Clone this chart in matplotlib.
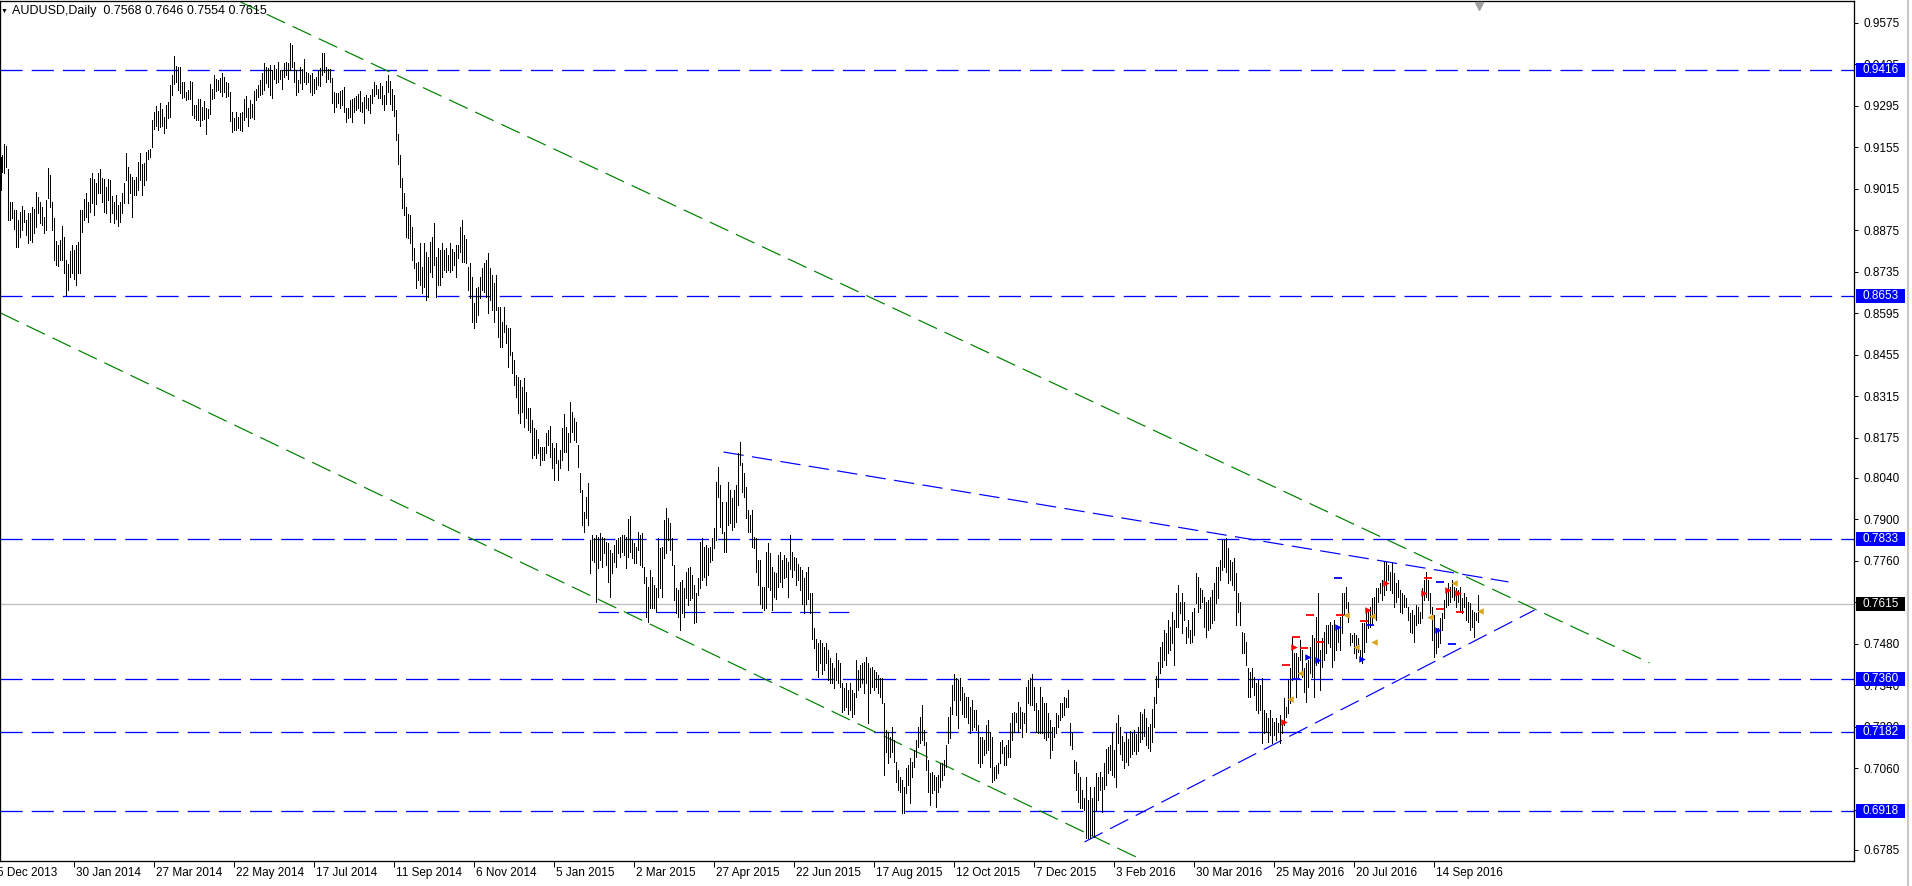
import matplotlib
matplotlib.use("Agg")
import matplotlib.pyplot as plt
from matplotlib.patches import Rectangle
from matplotlib.lines import Line2D
from matplotlib.transforms import blended_transform_factory

plt.rcParams['font.family'] = ['Liberation Sans', 'DejaVu Sans']

# AUDUSD daily bars, high / low in pips (price * 10000), one per trading day
highs = [
    9123, 9129, 9166, 9159, 9082, 8971, 8971, 8943, 8943, 8910,
    8938, 8957, 8943, 8910, 8932, 8932, 8955, 8946, 9004, 8988,
    8971, 8955, 8921, 8977, 9084, 9061, 8971, 8918, 8840, 8825,
    8842, 8889, 8853, 8775, 8761, 8806, 8824, 8808, 8825, 8836,
    8943, 8943, 8979, 8999, 8971, 9050, 9067, 9047, 9033, 9069,
    9080, 9050, 9047, 9022, 9047, 9044, 8990, 8971, 8994, 8960,
    8971, 8999, 9033, 9134, 9089, 9064, 9055, 9044, 9055, 9106,
    9136, 9100, 9103, 9140, 9146, 9148, 9247, 9275, 9294, 9278,
    9305, 9283, 9258, 9297, 9309, 9365, 9399, 9463, 9429, 9427,
    9424, 9376, 9376, 9342, 9348, 9378, 9376, 9297, 9297, 9317,
    9317, 9292, 9312, 9289, 9283, 9368, 9353, 9399, 9384, 9381,
    9387, 9406, 9393, 9376, 9370, 9342, 9275, 9252, 9275, 9256,
    9272, 9275, 9317, 9328, 9289, 9314, 9300, 9345, 9353, 9365,
    9381, 9406, 9438, 9426, 9421, 9432, 9415, 9432, 9418, 9443,
    9415, 9415, 9438, 9443, 9438, 9505, 9500, 9443, 9415, 9381,
    9426, 9418, 9454, 9410, 9406, 9399, 9406, 9384, 9393, 9415,
    9421, 9472, 9472, 9427, 9418, 9418, 9387, 9342, 9337, 9337,
    9345, 9348, 9359, 9289, 9289, 9314, 9317, 9320, 9328, 9334,
    9345, 9309, 9323, 9331, 9320, 9331, 9353, 9376, 9365, 9353,
    9370, 9360, 9330, 9380, 9400, 9380, 9350, 9330, 9280, 9200,
    9130, 9050, 9000, 8955, 8930, 8926, 8887, 8814, 8763, 8769,
    8831, 8752, 8831, 8803, 8786, 8836, 8853, 8898, 8786, 8814,
    8808, 8831, 8808, 8814, 8792, 8831, 8811, 8803, 8825, 8825,
    8887, 8910, 8859, 8844, 8752, 8763, 8718, 8628, 8679, 8685,
    8718, 8747, 8763, 8775, 8797, 8747, 8724, 8696, 8724, 8617,
    8617, 8567, 8617, 8555, 8544, 8544, 8465, 8437, 8387, 8381,
    8370, 8347, 8376, 8331, 8274, 8274, 8235, 8207, 8201, 8170,
    8145, 8145, 8145, 8190, 8201, 8215, 8156, 8139, 8156, 8100,
    8134, 8207, 8254, 8213, 8190, 8297, 8263, 8241, 8229, 8151,
    8055, 7999, 7926, 7976, 8021, 7830, 7847, 7836, 7847, 7842,
    7853, 7842, 7836, 7825, 7819, 7797, 7785, 7813, 7830, 7836,
    7842, 7847, 7847, 7842, 7900, 7911, 7830, 7819, 7808, 7858,
    7847, 7853, 7740, 7707, 7673, 7729, 7707, 7679, 7667, 7836,
    7802, 7808, 7898, 7937, 7903, 7887, 7836, 7746, 7667, 7662,
    7690, 7695, 7667, 7724, 7735, 7740, 7712, 7679, 7650, 7701,
    7825, 7836, 7808, 7813, 7802, 7808, 7836, 7870, 8027, 8078,
    8016, 7960, 7858, 7960, 8027, 7999, 7971, 7999, 8016, 8123,
    8162, 8089, 8055, 8010, 7931, 7914, 7931, 7841, 7836, 7763,
    7763, 7673, 7673, 7791, 7819, 7785, 7740, 7723, 7718, 7779,
    7791, 7763, 7779, 7768, 7757, 7847, 7791, 7774, 7768, 7751,
    7740, 7729, 7701, 7723, 7740, 7650, 7650, 7532, 7498, 7482,
    7493, 7482, 7470, 7482, 7459, 7431, 7414, 7397, 7448, 7425,
    7414, 7347, 7330, 7347, 7324, 7347, 7324, 7313, 7425, 7392,
    7408, 7414, 7420, 7437, 7414, 7397, 7403, 7392, 7386, 7375,
    7364, 7364, 7279, 7189, 7184, 7167, 7201, 7156, 7082, 7054,
    7032, 7021, 6998, 7060, 7071, 7094, 7082, 7122, 7156, 7201,
    7234, 7274, 7189, 7150, 7088, 7043, 7049, 7038, 7032, 7038,
    7077, 7077, 7088, 7139, 7234, 7268, 7341, 7380, 7364, 7358,
    7364, 7335, 7313, 7302, 7302, 7268, 7291, 7257, 7257, 7206,
    7167, 7167, 7156, 7206, 7223, 7184, 7167, 7066, 7071, 7077,
    7150, 7156, 7133, 7139, 7156, 7212, 7246, 7251, 7246, 7285,
    7268, 7251, 7246, 7335, 7358, 7364, 7380, 7335, 7279, 7257,
    7335, 7302, 7279, 7279, 7246, 7223, 7201, 7201, 7246, 7240,
    7279, 7279, 7302, 7296, 7324, 7212, 7184, 7088, 7082, 7043,
    7032, 6987, 6959, 7032, 6953, 6998, 6959, 6998, 7043, 7032,
    7049, 7032, 7077, 7127, 7133, 7139, 7184, 7122, 7212, 7240,
    7200, 7170, 7150, 7180, 7160, 7185, 7180, 7190, 7175, 7200,
    7250, 7245, 7260, 7230, 7200, 7210, 7260, 7302, 7370, 7420,
    7471, 7487, 7527, 7516, 7560, 7538, 7589, 7560, 7650, 7679,
    7622, 7650, 7622, 7538, 7560, 7527, 7589, 7600, 7718, 7707,
    7667, 7662, 7639, 7622, 7628, 7639, 7662, 7684, 7740, 7740,
    7763, 7830, 7830, 7836, 7802, 7763, 7757, 7768, 7718, 7650,
    7622, 7521, 7516, 7487, 7397, 7386, 7397, 7369, 7347, 7358,
    7341, 7364, 7257, 7246, 7229, 7257, 7229, 7218, 7229, 7212,
    7240, 7218, 7296, 7268, 7358, 7397, 7504, 7448, 7448, 7437,
    7493, 7459, 7397, 7414, 7426, 7471, 7510, 7499, 7572, 7650,
    7459, 7499, 7521, 7544, 7544, 7555, 7544, 7560, 7538, 7538,
    7572, 7650, 7650, 7673, 7622, 7516, 7510, 7516, 7510, 7499,
    7459, 7549, 7549, 7583, 7589, 7605, 7634, 7639, 7667, 7667,
    7684, 7695, 7757, 7757, 7746, 7723, 7752, 7718, 7684, 7695,
    7662, 7650, 7645, 7634, 7605, 7583, 7594, 7577, 7611, 7605,
    7589, 7667, 7695, 7723, 7695, 7650, 7605, 7577, 7532, 7532,
    7566, 7583, 7628, 7656, 7684, 7673, 7695, 7673, 7667, 7662,
    7673, 7634, 7650, 7639, 7622, 7617, 7594, 7589, 7583, 7646,
]
lows = [
    9010, 9073, 9067, 9089, 8910, 8910, 8915, 8878, 8820, 8820,
    8853, 8876, 8904, 8859, 8833, 8842, 8837, 8865, 8887, 8934,
    8899, 8893, 8865, 8876, 8983, 8955, 8876, 8775, 8758, 8755,
    8775, 8775, 8730, 8655, 8673, 8719, 8730, 8709, 8690, 8730,
    8730, 8870, 8910, 8921, 8904, 8938, 8966, 8926, 8963, 8999,
    8999, 8971, 8938, 8934, 8977, 8904, 8932, 8901, 8912, 8889,
    8904, 8934, 8968, 9044, 8966, 8999, 8921, 8994, 8994, 9010,
    9044, 8994, 9027, 9044, 9114, 9123, 9157, 9215, 9226, 9213,
    9224, 9226, 9204, 9219, 9252, 9258, 9331, 9368, 9376, 9348,
    9337, 9320, 9326, 9314, 9317, 9317, 9264, 9252, 9247, 9247,
    9226, 9247, 9249, 9200, 9252, 9267, 9317, 9320, 9345, 9348,
    9342, 9328, 9342, 9326, 9328, 9245, 9207, 9213, 9213, 9219,
    9213, 9211, 9247, 9256, 9226, 9252, 9258, 9249, 9314, 9323,
    9331, 9334, 9348, 9370, 9359, 9331, 9320, 9384, 9370, 9376,
    9384, 9353, 9391, 9399, 9384, 9415, 9427, 9376, 9331, 9342,
    9370, 9353, 9376, 9368, 9376, 9342, 9331, 9339, 9353, 9365,
    9362, 9399, 9410, 9376, 9384, 9376, 9303, 9275, 9292, 9305,
    9286, 9297, 9275, 9241, 9252, 9258, 9241, 9275, 9280, 9286,
    9278, 9275, 9238, 9286, 9280, 9272, 9305, 9328, 9334, 9320,
    9320, 9300, 9280, 9300, 9340, 9300, 9280, 9260, 9180, 9100,
    9020, 8950, 8926, 8853, 8850, 8831, 8775, 8747, 8679, 8707,
    8690, 8662, 8685, 8640, 8651, 8735, 8718, 8758, 8651, 8690,
    8690, 8718, 8741, 8735, 8741, 8735, 8741, 8758, 8718, 8780,
    8803, 8769, 8769, 8763, 8673, 8645, 8567, 8544, 8567, 8589,
    8645, 8673, 8668, 8651, 8595, 8640, 8606, 8567, 8606, 8516,
    8482, 8482, 8533, 8494, 8415, 8454, 8392, 8353, 8314, 8258,
    8224, 8263, 8213, 8241, 8201, 8196, 8106, 8117, 8106, 8123,
    8083, 8100, 8100, 8123, 8151, 8111, 8072, 8033, 8089, 8033,
    8072, 8100, 8128, 8128, 8066, 8162, 8196, 8168, 8162, 8078,
    7993, 7881, 7858, 7903, 7881, 7718, 7763, 7757, 7622, 7735,
    7763, 7740, 7785, 7746, 7690, 7639, 7718, 7757, 7740, 7785,
    7774, 7791, 7780, 7735, 7774, 7791, 7769, 7752, 7752, 7797,
    7746, 7740, 7684, 7572, 7555, 7600, 7600, 7600, 7589, 7639,
    7667, 7639, 7769, 7785, 7830, 7797, 7746, 7628, 7583, 7572,
    7527, 7583, 7572, 7634, 7611, 7628, 7634, 7549, 7555, 7645,
    7667, 7695, 7707, 7679, 7712, 7757, 7763, 7802, 7830, 7976,
    7875, 7853, 7791, 7791, 7881, 7887, 7864, 7875, 7892, 7948,
    8083, 7993, 7976, 7903, 7858, 7858, 7808, 7802, 7723, 7678,
    7616, 7600, 7594, 7600, 7673, 7661, 7594, 7639, 7633, 7673,
    7689, 7673, 7701, 7706, 7639, 7734, 7706, 7729, 7678, 7695,
    7661, 7616, 7583, 7616, 7633, 7583, 7498, 7465, 7392, 7369,
    7414, 7380, 7392, 7414, 7358, 7347, 7347, 7330, 7358, 7347,
    7335, 7251, 7257, 7268, 7245, 7257, 7234, 7245, 7302, 7324,
    7335, 7347, 7313, 7347, 7212, 7313, 7335, 7324, 7335, 7313,
    7302, 7279, 7037, 7116, 7077, 7099, 7116, 7082, 7015, 6987,
    6981, 6908, 6908, 6976, 7004, 6942, 7032, 7066, 7099, 7133,
    7144, 7156, 7139, 7054, 6981, 6936, 6976, 6987, 6931, 6981,
    6998, 7021, 7037, 7066, 7144, 7161, 7245, 7290, 7240, 7195,
    7290, 7245, 7234, 7234, 7212, 7178, 7189, 7201, 7189, 7077,
    7066, 7077, 7105, 7111, 7122, 7066, 7015, 7021, 7026, 7043,
    7077, 7111, 7071, 7071, 7099, 7099, 7156, 7184, 7217, 7184,
    7195, 7167, 7212, 7184, 7279, 7274, 7274, 7257, 7184, 7178,
    7178, 7178, 7161, 7156, 7167, 7094, 7122, 7167, 7178, 7201,
    7223, 7234, 7240, 7268, 7268, 7139, 7127, 7043, 6987, 6948,
    6925, 6925, 6919, 6824, 6824, 6824, 6835, 6829, 6919, 6953,
    6987, 6914, 6992, 7004, 7043, 7054, 7037, 7032, 6998, 7144,
    7110, 7090, 7060, 7080, 7070, 7100, 7110, 7120, 7110, 7120,
    7150, 7160, 7170, 7140, 7130, 7120, 7150, 7200, 7280, 7336,
    7381, 7403, 7426, 7409, 7448, 7459, 7482, 7409, 7538, 7538,
    7583, 7516, 7560, 7482, 7504, 7482, 7487, 7510, 7617, 7589,
    7600, 7622, 7538, 7504, 7527, 7532, 7549, 7560, 7617, 7634,
    7695, 7729, 7740, 7723, 7684, 7695, 7679, 7662, 7544, 7589,
    7544, 7448, 7448, 7409, 7302, 7302, 7336, 7308, 7257, 7246,
    7257, 7144, 7178, 7184, 7150, 7173, 7144, 7173, 7156, 7184,
    7144, 7178, 7206, 7234, 7246, 7279, 7358, 7369, 7302, 7369,
    7426, 7369, 7319, 7285, 7336, 7381, 7369, 7302, 7409, 7414,
    7324, 7403, 7426, 7448, 7482, 7471, 7403, 7426, 7459, 7487,
    7459, 7516, 7577, 7600, 7555, 7476, 7487, 7448, 7431, 7454,
    7426, 7414, 7454, 7487, 7532, 7538, 7549, 7577, 7560, 7622,
    7650, 7628, 7645, 7662, 7695, 7662, 7650, 7605, 7622, 7639,
    7589, 7583, 7605, 7605, 7560, 7521, 7516, 7487, 7544, 7549,
    7549, 7566, 7628, 7639, 7628, 7583, 7493, 7437, 7448, 7471,
    7482, 7527, 7566, 7605, 7611, 7622, 7639, 7628, 7605, 7622,
    7589, 7583, 7605, 7560, 7555, 7527, 7538, 7504, 7560, 7554,
]

symbol = "AUDUSD,Daily"
ohlc = [0.7568, 0.7646, 0.7554, 0.7615]
bid = 0.7615

levels = [0.9416, 0.8653, 0.7833, 0.7360, 0.7182, 0.6918]
price_ticks = [0.9575, 0.9435, 0.9295, 0.9155, 0.9015, 0.8875, 0.8735,
               0.8595, 0.8455, 0.8315, 0.8175, 0.8040, 0.7900, 0.7760,
               0.7620, 0.7480, 0.7340, 0.7200, 0.7060, 0.6920, 0.6785]

date_pos = [-3, 37, 77, 117, 157, 197, 237, 277, 317, 357,
            397, 437, 477, 517, 557, 597, 637, 677, 717]
date_labels = ["5 Dec 2013", "30 Jan 2014", "27 Mar 2014", "22 May 2014",
               "17 Jul 2014", "11 Sep 2014", "6 Nov 2014", "5 Jan 2015",
               "2 Mar 2015", "27 Apr 2015", "22 Jun 2015", "17 Aug 2015",
               "12 Oct 2015", "7 Dec 2015", "3 Feb 2016", "30 Mar 2016",
               "25 May 2016", "20 Jul 2016", "14 Sep 2016"]

# trend lines: (bar, price) end points
green_lines = [((120, 0.9645), (824.5, 0.7416)),
               ((0, 0.8596), (571, 0.6751))]
blue_lines = [((361.5, 0.8127), (754, 0.7689)),
              ((542, 0.6812), (767, 0.7594)),
              ((299, 0.7587), (428.5, 0.7587))]

# indicator marks in the 2016 triangle
red_arrow_x = [642, 647, 684, 693, 712, 724, 729]
red_arrow_y = [0.7215, 0.7468, 0.7594, 0.7684, 0.7653, 0.7662, 0.7650]
blue_arrow_x = [654, 659, 669, 681, 719]
blue_arrow_y = [0.7435, 0.7426, 0.7536, 0.7429, 0.7527]
gold_x = [645, 650, 673, 678, 686, 687, 715, 727, 740]
gold_y = [0.7293, 0.7381, 0.7577, 0.7468, 0.7574, 0.7487, 0.7572, 0.7684, 0.7591]
red_dash_x = [643, 648, 652, 655, 660, 670, 682, 714, 720, 730]
red_dash_y = [0.7409, 0.7504, 0.7466, 0.7577, 0.7487, 0.7577, 0.7557, 0.7701, 0.7598, 0.7589]
blue_dash_x = [648, 669, 685, 720, 726]
blue_dash_y = [0.7362, 0.7701, 0.7544, 0.7688, 0.7480]

W, H = 1912, 886
fig = plt.figure(figsize=(W / 100, H / 100), dpi=100)
fig.patch.set_facecolor("white")
ax = fig.add_axes([0, 25 / H, 1854 / W, 860 / H])
ax.set_xlim(-0.25, 926.75)
ax.set_ylim(0.67477, 0.96482)
ppu = 860 / (0.96482 - 0.67477)
px = 0.72  # one pixel in points

x = list(range(len(highs)))
ax.vlines(x, [v / 10000 for v in lows], [v / 10000 for v in highs],
          colors="black", linewidth=px * 0.95, antialiased=False, zorder=3)

for lv in levels:
    ax.axhline(lv, color="#0000FF", lw=px * 1.3, linestyle=(0, (17, 7)), zorder=2)
ax.axhline(bid, color="#C0C0C0", lw=px * 1.3, zorder=1)

for (x0, y0), (x1, y1) in green_lines:
    ax.plot([x0, x1], [y0, y1], color="#008000", lw=px * 1.2,
            linestyle=(0, (17, 7)), zorder=2)
for (x0, y0), (x1, y1) in blue_lines:
    ax.plot([x0, x1], [y0, y1], color="#0000FF", lw=px * 1.2,
            linestyle=(0, (17, 7)), zorder=2)

ax.scatter(red_arrow_x, red_arrow_y, marker=">", s=22, c="#FF0000", linewidths=0, zorder=4)
ax.scatter(blue_arrow_x, blue_arrow_y, marker=">", s=22, c="#0000FF", linewidths=0, zorder=4)
ax.scatter(gold_x, gold_y, marker="<", s=22, c="#DAA520", linewidths=0, zorder=4)
ax.hlines(red_dash_y, [v - 2 for v in red_dash_x], [v + 2 for v in red_dash_x],
          colors="#FF0000", lw=1.3, zorder=4)
ax.hlines(blue_dash_y, [v - 2 for v in blue_dash_x], [v + 2 for v in blue_dash_x],
          colors="#0000FF", lw=1.3, zorder=4)

# axes look
for sp in ax.spines.values():
    sp.set_linewidth(px * 1.3)
    sp.set_color("black")
ax.yaxis.tick_right()
ax.set_yticks(price_ticks)
ax.set_yticklabels([f"{v:.4f}" for v in price_ticks])
ax.tick_params(axis="y", direction="out", length=3, width=px, pad=4,
               labelsize=8.5, colors="black")
ax.set_xticks([p for p in date_pos if p >= 0])
ax.tick_params(axis="x", direction="out", length=4, width=px, labelbottom=False)

bt = blended_transform_factory(ax.transData, ax.transAxes)
for p, lab in zip(date_pos, date_labels):
    ax.text(p + 1, -12 / 860, lab, transform=bt, ha="left", va="center",
            fontsize=8.5, clip_on=False)

rt = blended_transform_factory(ax.transAxes, ax.transData)
for lv in levels:
    ax.add_patch(Rectangle((1 + 2 / 1854, lv - 7 / ppu), 49 / 1854, 14 / ppu,
                           transform=rt, facecolor="#0000FF", edgecolor="none",
                           clip_on=False, zorder=5))
    ax.text(1 + 8 / 1854, lv, f"{lv:.4f}", transform=rt, color="white",
            fontsize=8.5, va="center", ha="left", clip_on=False, zorder=6)
ax.add_patch(Rectangle((1 + 2 / 1854, bid - 7 / ppu), 49 / 1854, 14 / ppu,
                       transform=rt, facecolor="black", edgecolor="none",
                       clip_on=False, zorder=5))
ax.text(1 + 8 / 1854, bid, f"{bid:.4f}", transform=rt, color="white",
        fontsize=8.5, va="center", ha="left", clip_on=False, zorder=6)

# header text
fig.text(1 / W, 1 - 11 / H, "\u25BC", fontsize=5, va="center", ha="left")
fig.text(12 / W, 1 - 11 / H, symbol + "  " + " ".join(f"{v:.4f}" for v in ohlc),
         fontsize=9, va="center", ha="left")

# chart shift marker at the top
ax.plot([739.5], [1 - 5 / 860], marker="v", ms=6, color="#A0A0A0",
        transform=bt, clip_on=False, zorder=6)

# neighbouring window edge
fig.add_artist(Line2D([1908 / W, 1908 / W], [0, 1], transform=fig.transFigure,
                      color="#C8C8C8", lw=1.5))

fig.savefig("out.png", dpi=100, facecolor="white")
